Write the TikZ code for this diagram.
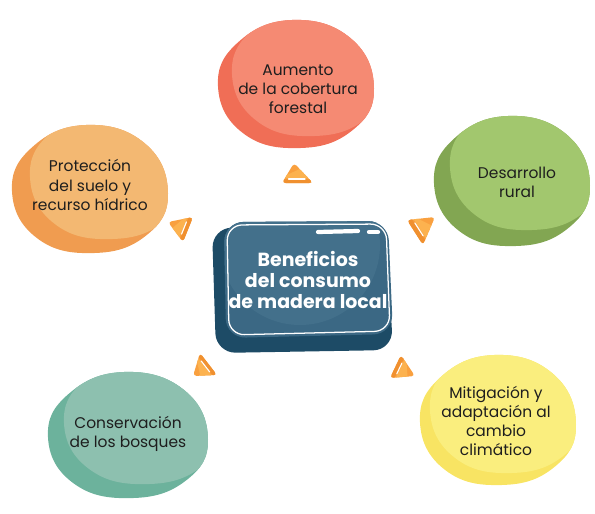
\documentclass[tikz,border=0pt]{standalone}
\usepackage{fontspec}
\setmainfont{Poppins}
\usetikzlibrary{calc}
\tikzset{
	mancha/.style args={#1:#2}{
		insert path={plot[smooth cycle, tension=0.75] coordinates {({#1},{0.05*#2}) ({0.7*#1},{-0.72*#2}) ({-0.05*#1},{-#2}) ({-0.74*#1},{-0.66*#2}) ({-#1},{0.02*#2}) ({-0.68*#1},{0.74*#2}) ({0.04*#1},{0.97*#2}) ({0.72*#1},{0.7*#2})}}
	},
	texto/.style={align=center, text=tinta, font=\fontsize{11}{13.6}\selectfont},
	titulo/.style={align=center, text=white, font=\bfseries\fontsize{13.5}{14.6}\selectfont}
}
\definecolor{tinta}{HTML}{1E1E1E}
\definecolor{rojoOsc}{HTML}{F06E56}
\definecolor{rojoCla}{HTML}{F58A73}
\definecolor{naraOsc}{HTML}{F09C50}
\definecolor{naraCla}{HTML}{F3B872}
\definecolor{verdeOsc}{HTML}{82A652}
\definecolor{verdeCla}{HTML}{A2C76E}
\definecolor{tealOsc}{HTML}{6CB29C}
\definecolor{tealCla}{HTML}{8DC0AF}
\definecolor{amaOsc}{HTML}{F8E463}
\definecolor{amaCla}{HTML}{FAEE7E}
\definecolor{azulOsc}{HTML}{1D4B66}
\definecolor{azulMed}{HTML}{3B6884}
\definecolor{azulCla}{HTML}{43708B}
\definecolor{cuna}{HTML}{F9A03F}
\definecolor{cunaCla}{HTML}{FCB24F}
\definecolor{cunaOsc}{HTML}{F0902F}
\newcommand{\cuna}[3]{%
	\fill[cuna, rounded corners=2.5] #1 -- #2 -- #3 -- cycle;
	\begin{scope}
		\clip[rounded corners=2.5] #1 -- #2 -- #3 -- cycle;
		\fill[cunaCla] ($#1!0.3!#3$) -- ($#1!0.76!#3$) -- ($#1!0.76!#2$) -- ($#1!0.6!#2$) -- cycle;
		\fill[cunaOsc] ($#1!0.82!#2$) -- ($#1!1.4!#2$) -- ($#1!1.4!#3$) -- ($#1!0.82!#3$) -- cycle;
	\end{scope}
	\draw[white, line width=0.8, line cap=round, shorten <=3, shorten >=3] ($#1!0.8!#2$) -- ($#1!0.8!#3$);
}

\begin{document}
\begin{tikzpicture}[x=0.025cm, y=-0.025cm]
	\useasboundingbox (0,0) rectangle (595,514);
	
	% manchas
	\begin{scope}[shift={(296,85)}]
		\fill[rojoOsc] (0,0) [mancha=78:65];
		\begin{scope}
			\clip (0,0) [mancha=78:65];
			\fill[rojoCla, shift={(14,-12)}] (0,0) [mancha=78:65];
		\end{scope}
	\end{scope}
	
	\begin{scope}[shift={(90,190)}]
		\fill[naraOsc] (0,0) [mancha=78:65];
		\begin{scope}
			\clip (0,0) [mancha=78:65];
			\fill[naraCla, shift={(18,-14)}] (0,0) [mancha=78:65];
		\end{scope}
	\end{scope}
	
	\begin{scope}[shift={(512,182)}]
		\fill[verdeOsc] (0,0) [mancha=78:66];
		\begin{scope}
			\clip (0,0) [mancha=78:66];
			\fill[verdeCla, shift={(16,-16)}] (0,0) [mancha=78:66];
		\end{scope}
	\end{scope}
	
	\begin{scope}[shift={(128,436)}]
		\fill[tealOsc] (0,0) [mancha=80:64];
		\begin{scope}
			\clip (0,0) [mancha=80:64];
			\fill[tealCla, shift={(16,-14)}] (0,0) [mancha=80:64];
		\end{scope}
	\end{scope}
	
	\begin{scope}[shift={(498,421)}]
		\fill[amaOsc] (0,0) [mancha=78:66];
		\begin{scope}
			\clip (0,0) [mancha=78:66];
			\fill[amaCla, shift={(10,-12)}] (0,0) [mancha=78:66];
		\end{scope}
	\end{scope}
	
	% caja central
	\fill[azulOsc, rounded corners=14] (212,228) -- (386,225) -- (393,350) -- (216,353) -- cycle;
	\begin{scope}
		\clip[rounded corners=14] (224,222) -- (388,221) -- (393,334) -- (226,338) -- cycle;
		\fill[azulMed] (200,200) rectangle (400,360);
		\fill[azulCla] (300,245) circle (80);
	\end{scope}
	\draw[white, line width=0.9, rounded corners=11] (227,225) -- (386,224) -- (390,331) -- (229,335) -- cycle;
	\draw[white, line width=3, line cap=round] (318,232) -- (358,231);
	\draw[white, line width=3, line cap=round] (369,232) -- (378,232);
	
	% textos
	\node[titulo] (beneficios) at (308,280) {Beneficios\\del consumo\\de madera local};
	\node[texto] (aumento) at (298,89) {Aumento\\de la cobertura\\forestal};
	\node[texto] (proteccion) at (90,185) {Protección\\del suelo y\\recurso hídrico};
	\node[texto] (desarrollo) at (517,182) {Desarrollo\\rural};
	\node[texto] (conservacion) at (128,434) {Conservación\\de los bosques};
	\node[texto] (mitigacion) at (496,421) {Mitigación y\\adaptación al\\cambio\\climático};
	
	% cuñas
	\cuna{(294,163)}{(282,183)}{(313,183)}
	\cuna{(168,222)}{(193,217)}{(183,242)}
	\cuna{(435,217)}{(407,220)}{(423,245)}
	\cuna{(193,376)}{(200,353)}{(217,375)}
	\cuna{(415,376)}{(401,355)}{(390,378)}
\end{tikzpicture}
\end{document}
